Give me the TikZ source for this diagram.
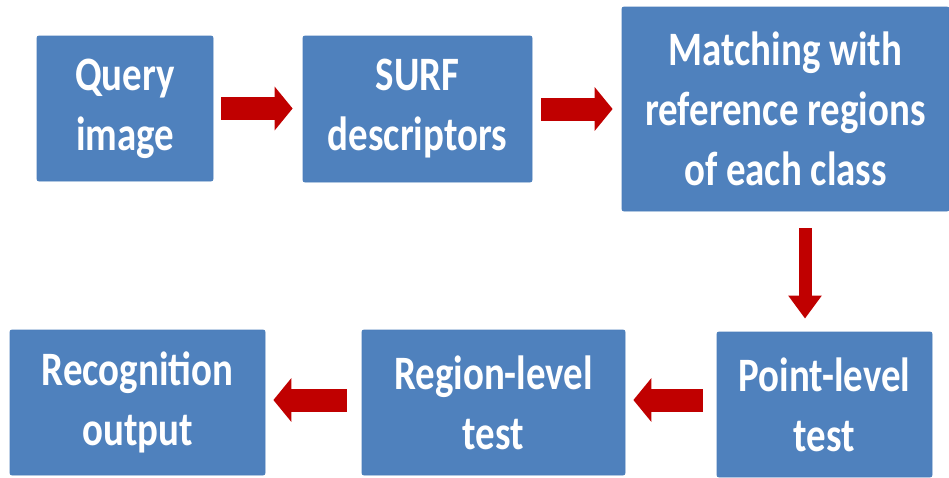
\documentclass[tikz,border=0pt]{standalone}
\usepackage{fontspec}
\setmainfont[FakeStretch=0.81]{Carlito}
\usetikzlibrary{arrows.meta,calc}
\definecolor{boxblue}{HTML}{4F81BD}
\definecolor{boxedge}{HTML}{4A7EBB}
\definecolor{arrred}{HTML}{C00000}
\tikzset{
  stagebox/.style={rectangle, rounded corners=2pt, fill=boxblue, draw=boxedge, line width=0.8pt,
    text=white, align=center, inner sep=0pt,
    font=\fontsize{48}{60}\selectfont\bfseries},
  blockarrow/.style={arrred, line width=23pt, -{Triangle[length=18pt,width=43pt]}},
  downarrow/.style={arrred, line width=13pt, -{Triangle[length=23pt,width=32pt]}}
}
\begin{document}
\begin{tikzpicture}[x=1pt,y=-1pt]
\useasboundingbox[fill=white] (0,0) rectangle (949,477);
\node[stagebox, minimum width=176pt, minimum height=145pt] (q) at (125,108.5) {Query\\image};
\node[stagebox, minimum width=229pt, minimum height=146pt] (s) at (417.5,109) {SURF\\descriptors};
\node[stagebox, minimum width=327pt, minimum height=204pt] (m) at (785.5,109) {Matching with\\reference regions\\of each class};
\node[stagebox, minimum width=215pt, minimum height=145pt] (p) at (824.5,404.5) {Point-level\\test};
\node[stagebox, minimum width=263pt, minimum height=145pt] (r) at (493.5,402.5) {Region-level\\test};
\node[stagebox, minimum width=255pt, minimum height=145pt] (o) at (137.5,402.5) {Recognition\\output};
\coordinate (dtop) at ($(m.south)!0.5!(p.north)$);
\draw[blockarrow, shorten <=8pt, shorten >=10pt] (q.east) -- (q.east -| s.west);
\draw[blockarrow, shorten <=9pt, shorten >=9pt] (s.east) -- (s.east -| m.west);
\draw[downarrow, shorten <=17pt, shorten >=13pt] (dtop |- m.south) -- (dtop |- p.north);
\draw[blockarrow, shorten <=14pt, shorten >=8pt] (p.west |- 0,400) -- (r.east |- 0,400);
\draw[blockarrow, shorten <=15pt, shorten >=8pt] (r.west |- 0,400) -- (o.east |- 0,400);
\end{tikzpicture}
\end{document}
